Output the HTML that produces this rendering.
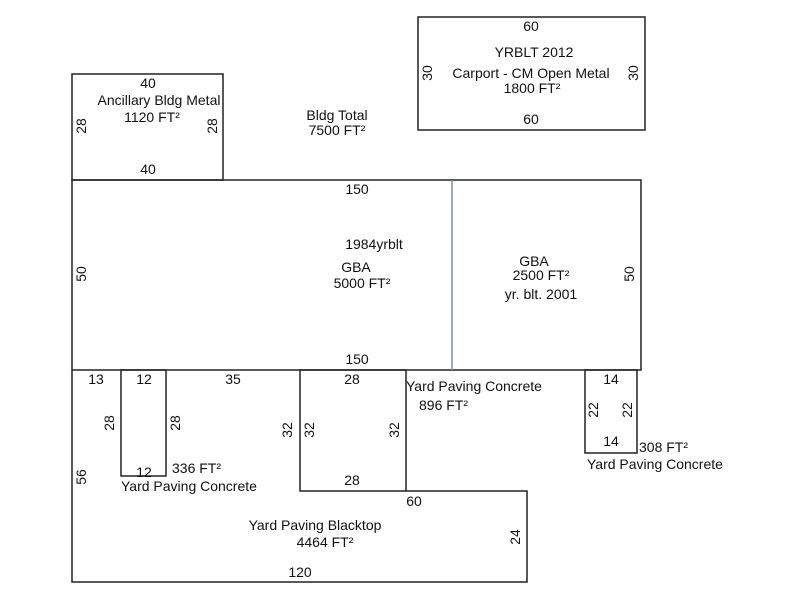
<!DOCTYPE html>
<html><head><style>body{margin:0;background:#fff}svg{display:block}text{font-family:"Liberation Sans",Arial,sans-serif;font-size:14px;fill:#111}</style></head><body>
<svg width="800" height="600" xmlns="http://www.w3.org/2000/svg">
<g fill="none" stroke="#222" stroke-width="1.5">
<rect x="418" y="17" width="227" height="113"/>
<rect x="72" y="74" width="151" height="106"/>
<rect x="72" y="180" width="569" height="190"/>
<rect x="121" y="370" width="45" height="106"/>
<rect x="300" y="370" width="106" height="121"/>
<rect x="585" y="370" width="52" height="83"/>
<polyline points="72,370 72,582 527,582 527,491 406,491"/>
</g>
<line x1="452" y1="180" x2="452" y2="370" stroke="#7a8fa8" stroke-width="1.5"/>
<g text-anchor="middle">
<text x="531" y="31">60</text>
<text x="534" y="57">YRBLT 2012</text>
<text x="531" y="78">Carport - CM Open Metal</text>
<text x="532" y="93">1800 FT²</text>
<text x="531" y="124">60</text>
<text x="148" y="88">40</text>
<text x="159" y="105">Ancillary Bldg Metal</text>
<text x="152" y="122">1120 FT²</text>
<text x="148" y="174">40</text>
<text x="337" y="120">Bldg Total</text>
<text x="337" y="135">7500 FT²</text>
<text x="357" y="194">150</text>
<text x="374" y="249">1984yrblt</text>
<text x="356" y="272">GBA</text>
<text x="362" y="288">5000 FT²</text>
<text x="357" y="364">150</text>
<text x="534" y="266">GBA</text>
<text x="541" y="280">2500 FT²</text>
<text x="541" y="299">yr. blt. 2001</text>
<text x="96" y="384">13</text>
<text x="144" y="384">12</text>
<text x="233" y="384">35</text>
<text x="352" y="384">28</text>
<text x="144" y="477">12</text>
<text x="352" y="485">28</text>
<text x="414" y="506">60</text>
<text x="611" y="384">14</text>
<text x="611" y="446">14</text>
<text x="315" y="530">Yard Paving Blacktop</text>
<text x="325" y="547">4464 FT²</text>
<text x="300" y="577">120</text>
</g>
<text x="406" y="391">Yard Paving Concrete</text>
<text x="419" y="410">896 FT²</text>
<text x="172" y="473">336 FT²</text>
<text x="121" y="491">Yard Paving Concrete</text>
<text x="639" y="452">308 FT²</text>
<text x="587" y="469">Yard Paving Concrete</text>
<g text-anchor="middle">
<text transform="translate(432,73) rotate(-90)">30</text>
<text transform="translate(638,73) rotate(-90)">30</text>
<text transform="translate(86,126) rotate(-90)">28</text>
<text transform="translate(217,126) rotate(-90)">28</text>
<text transform="translate(86,274) rotate(-90)">50</text>
<text transform="translate(634,274) rotate(-90)">50</text>
<text transform="translate(114,423) rotate(-90)">28</text>
<text transform="translate(180,423) rotate(-90)">28</text>
<text transform="translate(292,430) rotate(-90)">32</text>
<text transform="translate(314,430) rotate(-90)">32</text>
<text transform="translate(399,430) rotate(-90)">32</text>
<text transform="translate(598,410) rotate(-90)">22</text>
<text transform="translate(632,410) rotate(-90)">22</text>
<text transform="translate(86,477) rotate(-90)">56</text>
<text transform="translate(520,537) rotate(-90)">24</text>
</g>
</svg>
</body></html>
